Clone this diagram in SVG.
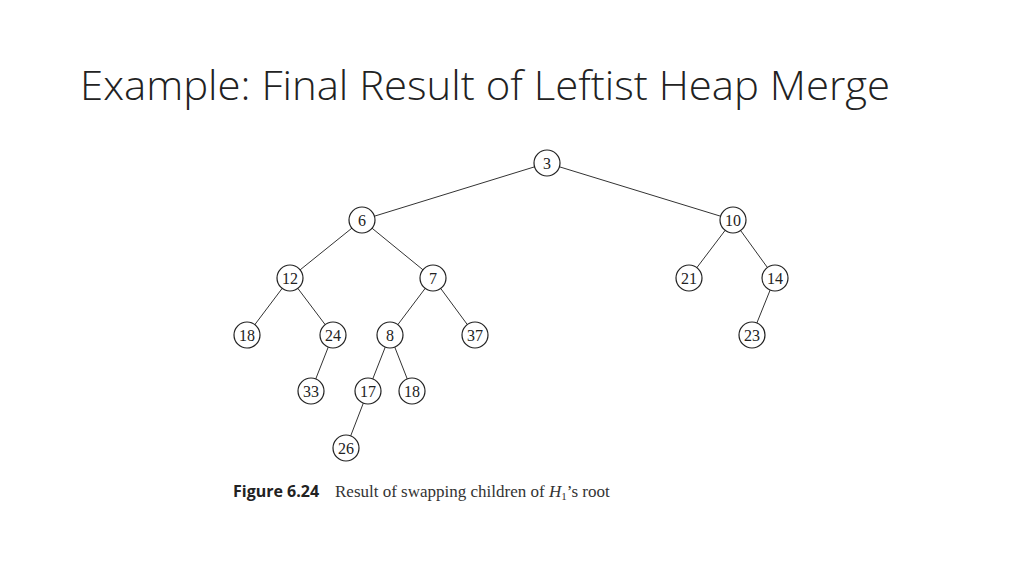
<svg xmlns="http://www.w3.org/2000/svg" width="1024" height="576" viewBox="0 0 1024 576">
<style>
.n circle{fill:#fff;stroke:#222;stroke-width:1.2}
.n text{font-family:"Liberation Serif",serif;font-size:16px;fill:#222;text-anchor:middle;dominant-baseline:central}
#edges line{stroke:#333;stroke-width:1}
</style>
<rect width="1024" height="576" fill="#fff"/>
<text x="80" y="100" font-family="'Open Sans','Liberation Sans',sans-serif" font-weight="300" font-size="40" fill="#222" textLength="810" lengthAdjust="spacingAndGlyphs">Example: Final Result of Leftist Heap Merge</text>
<g id="edges">
<line x1="547" y1="163" x2="362" y2="220"/><line x1="547" y1="163" x2="733" y2="220"/>
<line x1="362" y1="220" x2="290" y2="278"/><line x1="362" y1="220" x2="433" y2="278"/>
<line x1="733" y1="220" x2="689" y2="278"/><line x1="733" y1="220" x2="775" y2="278"/>
<line x1="290" y1="278" x2="247" y2="335"/><line x1="290" y1="278" x2="333" y2="335"/>
<line x1="433" y1="278" x2="390" y2="335"/><line x1="433" y1="278" x2="475" y2="335"/>
<line x1="775" y1="278" x2="752" y2="335"/>
<line x1="333" y1="335" x2="311" y2="391"/>
<line x1="390" y1="335" x2="368" y2="391"/><line x1="390" y1="335" x2="412" y2="391"/>
<line x1="368" y1="391" x2="346" y2="448"/>
</g>
<g id="n3" class="n"><circle cx="547" cy="163" r="13"/><text x="547" y="163">3</text></g>
<g id="n6" class="n"><circle cx="362" cy="220" r="13"/><text x="362" y="220">6</text></g>
<g id="n10" class="n"><circle cx="733" cy="220" r="13"/><text x="733" y="220">10</text></g>
<g id="n12" class="n"><circle cx="290" cy="278" r="13"/><text x="290" y="278">12</text></g>
<g id="n7" class="n"><circle cx="433" cy="278" r="13"/><text x="433" y="278">7</text></g>
<g id="n21" class="n"><circle cx="689" cy="278" r="13"/><text x="689" y="278">21</text></g>
<g id="n14" class="n"><circle cx="775" cy="278" r="13"/><text x="775" y="278">14</text></g>
<g id="n18a" class="n"><circle cx="247" cy="335" r="13"/><text x="247" y="335">18</text></g>
<g id="n24" class="n"><circle cx="333" cy="335" r="13"/><text x="333" y="335">24</text></g>
<g id="n8" class="n"><circle cx="390" cy="335" r="13"/><text x="390" y="335">8</text></g>
<g id="n37" class="n"><circle cx="475" cy="335" r="13"/><text x="475" y="335">37</text></g>
<g id="n23" class="n"><circle cx="752" cy="335" r="13"/><text x="752" y="335">23</text></g>
<g id="n33" class="n"><circle cx="311" cy="391" r="13"/><text x="311" y="391">33</text></g>
<g id="n17" class="n"><circle cx="368" cy="391" r="13"/><text x="368" y="391">17</text></g>
<g id="n18b" class="n"><circle cx="412" cy="391" r="13"/><text x="412" y="391">18</text></g>
<g id="n26" class="n"><circle cx="346" cy="448" r="13"/><text x="346" y="448">26</text></g>
<text x="233" y="497" font-family="'Open Sans','Liberation Sans',sans-serif" font-weight="bold" font-size="16" fill="#222">Figure 6.24</text>
<text x="335" y="497" font-family="'Liberation Serif',serif" font-size="17" fill="#333">Result of swapping children of <tspan font-style="italic">H</tspan><tspan font-size="11" dy="3">1</tspan><tspan dy="-3">’s root</tspan></text>
</svg>
